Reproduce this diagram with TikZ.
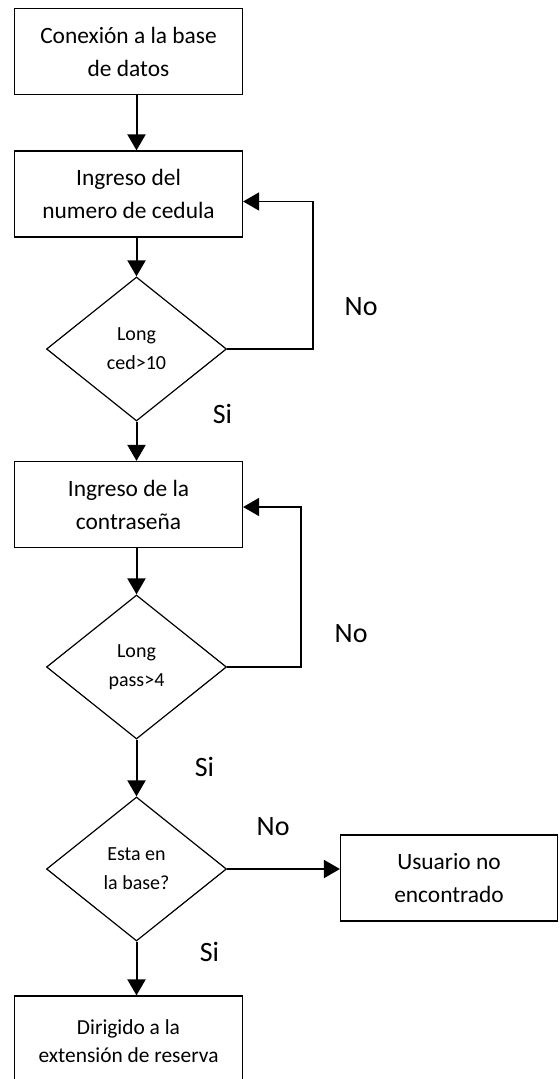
\documentclass[tikz,border=0pt]{standalone}
\usepackage{fontspec}
\setmainfont{Carlito}
\usepackage{tikz}
\usetikzlibrary{positioning,calc,shapes.geometric,arrows.meta}
\tikzset{
   every path/.style={>={Triangle[length=8pt,width=9pt]}},
   paso/.style={rectangle,draw,line width=0.6pt,minimum width=114pt,minimum height=43pt,inner sep=0pt,align=center,font=\fontsize{11.7}{16.5}\selectfont},
   cond/.style={diamond,draw,line width=0.6pt,minimum width=90pt,minimum height=72pt,inner sep=0pt,align=center,font=\fontsize{10}{14.5}\selectfont},
   flujo/.style={->,line width=1pt},
   ret/.style={->,line width=0.8pt},
   resp/.style={inner sep=0pt,font=\fontsize{14}{16}\selectfont},
}

\begin{document}
\begin{tikzpicture}
      \useasboundingbox (0,0) rectangle (279.5pt,-539.5pt);

      \node[paso] (conexion) at (64.25pt,-25.75pt)
        {Conexión a la base\\de datos};

      \node[paso] (cedula) [below of = conexion, node distance = 71.25pt]
        {Ingreso del\\numero de cedula};

      \node[cond] (longced) [below of = cedula, node distance = 77.5pt, xshift = 4pt]
        {Long\\ced>10};

      \node[paso] (clave) [below of = longced, node distance = 77.75pt, xshift = -4pt]
        {Ingreso de la\\contraseña};

      \node[cond] (longpass) [below of = clave, node distance = 81.25pt, xshift = 4pt]
        {Long\\pass>4};

      \node[cond] (enbase) [below of = longpass, node distance = 101pt]
        {Esta en\\la base?};

      \node[paso, minimum width = 108.5pt] (usuario) [right of = enbase, node distance = 156.25pt, yshift = -4.5pt]
        {Usuario no\\encontrado};

      \node[paso, minimum height = 45pt, font=\fontsize{10.7}{14}\selectfont] (dirigido) [below of = enbase, node distance = 86pt, xshift = -4pt]
        {Dirigido a la\\extensión de reserva};

      % respuestas
      \node[resp] (no1) at ($(longced.east)+(67pt,21pt)$) {No};
      \node[resp] (si1) at ($(longced.south)+(43pt,4pt)$) {Si};
      \node[resp] (no2) at ($(longpass.east)+(62pt,16.5pt)$) {No};
      \node[resp] (si2) at ($(longpass.south)+(34pt,-13.5pt)$) {Si};
      \node[resp] (no3) at ($(enbase.east)+(23pt,21pt)$) {No};
      \node[resp] (si3) at ($(enbase.south)+(36.5pt,-5pt)$) {Si};

      \draw[flujo] (conexion.south -| longced) -- (cedula.north -| longced);
      \draw[flujo] (cedula.south -| longced) -- (longced.north);
      \draw[flujo] (longced.south) -- (clave.north -| longced);
      \draw[flujo] (clave.south -| longpass) -- (longpass.north);
      \draw[flujo] (longpass.south) -- (enbase.north);
      \draw[flujo] (enbase.south) -- (dirigido.north -| enbase);
      \draw[flujo] (enbase.east) -- (enbase.east -| usuario.west);

      \draw[ret] (longced.east) -- ++(43pt,0) |- ([yshift=-3.75pt]cedula.east);
      \draw[ret] (longpass.east) -- ++(37pt,0) |- ([yshift=-1.25pt]clave.east);
\end{tikzpicture}
\end{document}
